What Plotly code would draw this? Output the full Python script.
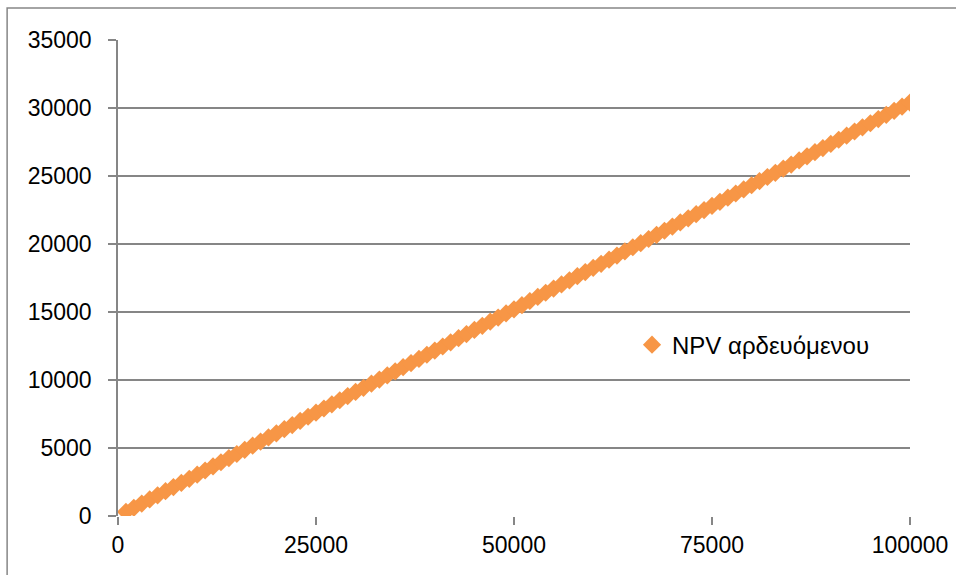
import plotly.graph_objects as go

x_values = [1000, 2000, 3000, 4000, 5000, 6000, 7000, 8000, 9000, 10000,
            11000, 12000, 13000, 14000, 15000, 16000, 17000, 18000, 19000, 20000,
            21000, 22000, 23000, 24000, 25000, 26000, 27000, 28000, 29000, 30000,
            31000, 32000, 33000, 34000, 35000, 36000, 37000, 38000, 39000, 40000,
            41000, 42000, 43000, 44000, 45000, 46000, 47000, 48000, 49000, 50000,
            51000, 52000, 53000, 54000, 55000, 56000, 57000, 58000, 59000, 60000,
            61000, 62000, 63000, 64000, 65000, 66000, 67000, 68000, 69000, 70000,
            71000, 72000, 73000, 74000, 75000, 76000, 77000, 78000, 79000, 80000,
            81000, 82000, 83000, 84000, 85000, 86000, 87000, 88000, 89000, 90000,
            91000, 92000, 93000, 94000, 95000, 96000, 97000, 98000, 99000, 100000]

npv_values = [304, 608, 912, 1216, 1520, 1824, 2128, 2432, 2736, 3040,
              3344, 3648, 3952, 4256, 4560, 4864, 5168, 5472, 5776, 6080,
              6384, 6688, 6992, 7296, 7600, 7904, 8208, 8512, 8816, 9120,
              9424, 9728, 10032, 10336, 10640, 10944, 11248, 11552, 11856, 12160,
              12464, 12768, 13072, 13376, 13680, 13984, 14288, 14592, 14896, 15200,
              15504, 15808, 16112, 16416, 16720, 17024, 17328, 17632, 17936, 18240,
              18544, 18848, 19152, 19456, 19760, 20064, 20368, 20672, 20976, 21280,
              21584, 21888, 22192, 22496, 22800, 23104, 23408, 23712, 24016, 24320,
              24624, 24928, 25232, 25536, 25840, 26144, 26448, 26752, 27056, 27360,
              27664, 27968, 28272, 28576, 28880, 29184, 29488, 29792, 30096, 30400]

series_name = "NPV αρδευόμενου"
x_ticks = [0, 25000, 50000, 75000, 100000]
y_ticks = [0, 5000, 10000, 15000, 20000, 25000, 30000, 35000]

orange = "#F79646"
grid = "#868686"
font = "Liberation Sans"

fig = go.Figure()
fig.add_trace(go.Scatter(
    x=x_values, y=npv_values, mode="markers", name=series_name,
    marker=dict(symbol="diamond", size=14, color=orange,
                line=dict(width=0)),
    showlegend=True,
))

fig.update_layout(
    width=956, height=575,
    margin=dict(l=118, r=46, t=40, b=59),
    paper_bgcolor="white", plot_bgcolor="white",
    font=dict(family=font, size=23, color="black"),
    showlegend=True,
    legend=dict(x=0.649, y=0.359, xanchor="left", yanchor="middle",
                bgcolor="rgba(0,0,0,0)", font=dict(size=24),
                itemwidth=30),
    xaxis=dict(range=[0, 100000], tickvals=x_ticks,
               ticktext=[str(v) for v in x_ticks],
               showgrid=False, zeroline=False, automargin=False,
               showline=False, ticks="outside", ticklen=8,
               tickcolor=grid, tickwidth=1.5),
    yaxis=dict(range=[0, 35000], tickvals=y_ticks,
               ticktext=[str(v) for v in y_ticks],
               showgrid=True, gridcolor=grid, gridwidth=1.5, automargin=False,
               zeroline=False, showline=True, linecolor=grid, linewidth=1.5,
               ticks="outside", ticklen=8, tickcolor=grid, tickwidth=1.5,
               ticklabelstandoff=12),
)

# outer chart-area border
fig.add_shape(type="rect", xref="paper", yref="paper",
              x0=-0.140, y0=-0.3, x1=1.2, y1=1.067,
              line=dict(color=grid, width=1.5), layer="below")

fig.write_html("out.html")
